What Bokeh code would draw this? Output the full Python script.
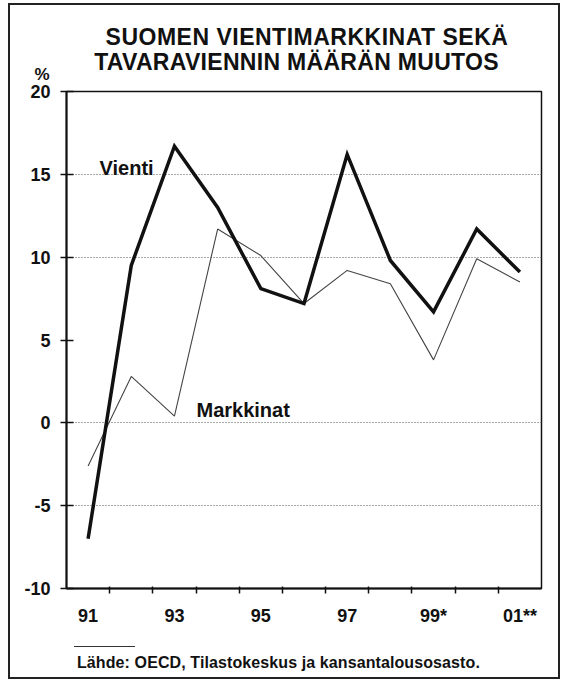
from bokeh.plotting import figure
from bokeh.models import FixedTicker, Label, Grid, Range1d, Div
from bokeh.layouts import column
from bokeh.embed import file_html
from bokeh.resources import INLINE

# ---- data -------------------------------------------------------------
years = ["91", "92", "93", "94", "95", "96", "97", "98", "99*", "00", "01**"]
vienti = [-7.0, 9.5, 16.7, 13.0, 8.1, 7.2, 16.2, 9.8, 6.7, 11.7, 9.1]
markkinat = [-2.6, 2.8, 0.4, 11.7, 10.1, 7.2, 9.2, 8.4, 3.8, 9.9, 8.5]
y_ticks = [-10, -5, 0, 5, 10, 15, 20]
grid_ticks = [-5, 0, 10, 15]

title1 = "SUOMEN VIENTIMARKKINAT SEKÄ"
title2 = "TAVARAVIENNIN MÄÄRÄN MUUTOS"
source = "Lähde: OECD, Tilastokeskus ja kansantalousosasto."
unit = "%"

FONT = "Liberation Sans"
INK = "#111111"
W = 548

xs = list(range(len(years)))

p = figure(width=W, height=552, output_backend="svg", toolbar_location=None,
           x_range=Range1d(-0.5, len(years) - 0.5), y_range=Range1d(-10, 20),
           min_border_left=56, min_border_right=17, min_border_top=8,
           min_border_bottom=47)
p.background_fill_color = "white"
p.border_fill_color = "white"
p.outline_line_color = INK
p.outline_line_width = 1.5
p.grid.visible = False

# dotted gridlines
p.add_layout(Grid(dimension=1, ticker=FixedTicker(ticks=grid_ticks),
                  grid_line_color="#555555", grid_line_dash="1 2",
                  grid_line_width=1))

# y axis
ya = p.yaxis[0]
ya.ticker = FixedTicker(ticks=y_ticks)
ya.major_label_overrides = {t: str(t) for t in y_ticks}
ya.axis_line_width = 2
ya.axis_line_color = INK
ya.major_tick_in = 7
ya.major_tick_out = 6
ya.major_tick_line_width = 1.5
ya.major_tick_line_color = INK
ya.minor_tick_line_color = None
ya.major_label_standoff = 10
ya.major_label_text_font = FONT
ya.major_label_text_font_style = "bold"
ya.major_label_text_font_size = "18px"
ya.major_label_text_color = INK

# x axis: labels on every other year, ticks between years
label_idx = xs[::2]
bounds = [i + 0.5 for i in xs[:-1]]
xa = p.xaxis[0]
xa.ticker = FixedTicker(ticks=label_idx, minor_ticks=bounds)
xa.major_label_overrides = {i: years[i] for i in label_idx}
xa.axis_line_width = 2
xa.axis_line_color = INK
xa.major_tick_in = 0
xa.major_tick_out = 0
xa.minor_tick_in = 2
xa.minor_tick_out = 5
xa.minor_tick_line_width = 1.5
xa.minor_tick_line_color = INK
xa.major_label_standoff = 12
xa.major_label_text_font = FONT
xa.major_label_text_font_style = "bold"
xa.major_label_text_font_size = "18px"
xa.major_label_text_color = INK

# lines
p.line(xs, markkinat, line_color="#444444", line_width=1.1)
p.line(xs, vienti, line_color=INK, line_width=3.5, line_join="miter")

# series labels
for txt, sx, sy in [("Vienti", 33, 421), ("Markkinat", 130, 179)]:
    p.add_layout(Label(x=sx, y=sy, x_units="screen", y_units="screen", text=txt,
                       text_font=FONT, text_font_style="bold",
                       text_font_size="20px", text_color=INK,
                       text_align="left", text_baseline="alphabetic"))

base = f"position:absolute;white-space:nowrap;font-family:'{FONT}';font-weight:bold;color:{INK};line-height:1;"

top_html = f"""
<div style="position:relative;width:{W}px;height:78px;">
  <span style="{base}font-size:23px;letter-spacing:0.5px;left:297px;top:20.5px;transform:translateX(-50%);">{title1}</span>
  <span style="{base}font-size:23px;letter-spacing:0.3px;left:286.5px;top:45.5px;transform:translateX(-50%);">{title2}</span>
  <span style="{base}font-size:17px;left:32px;top:61px;transform:translateX(-50%);">{unit}</span>
</div>
"""
bottom_html = f"""
<div style="position:relative;width:{W}px;height:42px;">
  <div style="position:absolute;left:64px;top:11px;width:61px;height:0;border-top:1px solid #333;"></div>
  <span style="{base}font-size:16px;letter-spacing:0.1px;left:67px;top:19.5px;">{source}</span>
</div>
"""

div_top = Div(text=top_html, width=W, height=78, margin=0)
div_bottom = Div(text=bottom_html, width=W, height=42, margin=0)
p.margin = 0

layout = column(div_top, p, div_bottom, spacing=0,
                styles={"border": "2px solid #222", "margin-left": "8px",
                        "margin-top": "3px", "background": "white"})

open("out.html", "w").write(file_html(layout, INLINE))
